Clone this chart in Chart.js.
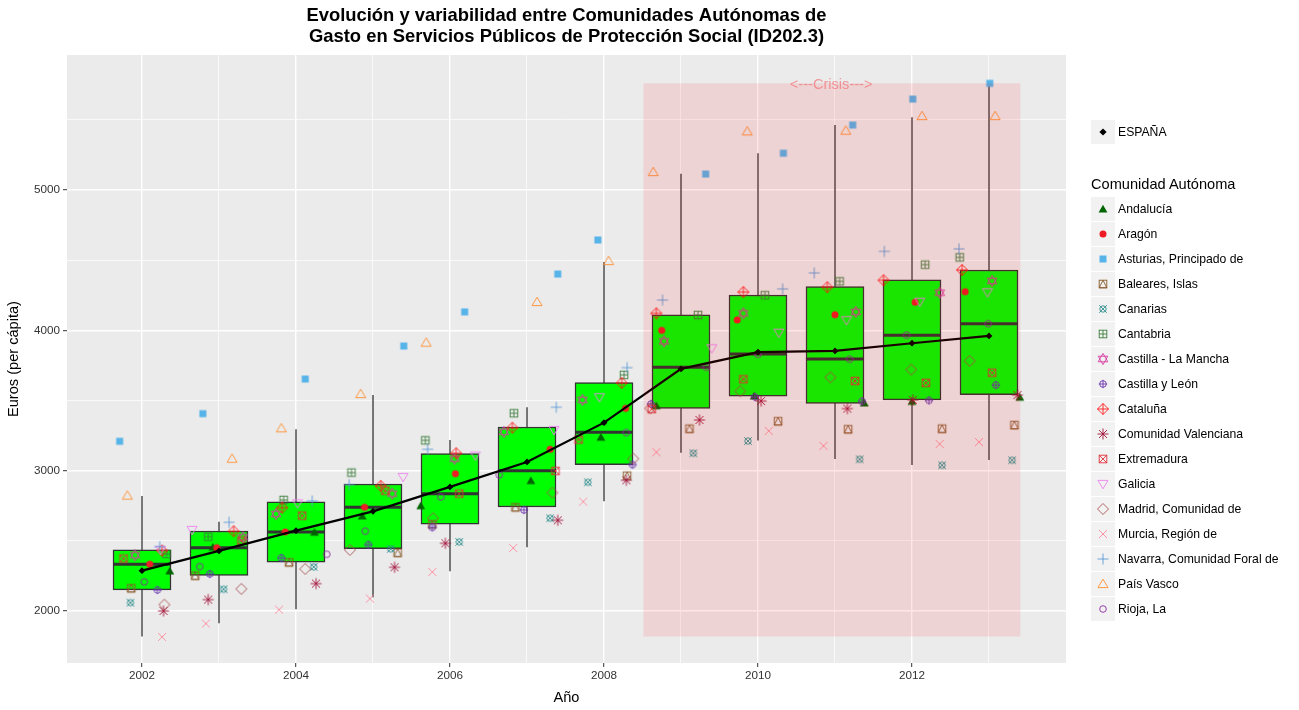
<!DOCTYPE html>
<html lang="es">
<head>
<meta charset="utf-8">
<title>Gasto en Servicios Públicos de Protección Social</title>
<script src="https://cdn.jsdelivr.net/npm/chart.js@4"></script>
<style>
    html, body { margin: 0; padding: 0; background: #fff; }
    #wrap { position: relative; width: 1299px; height: 710px; overflow: hidden; font-family: "Liberation Sans", Arial, sans-serif; color: #000; }
    #chart { position: absolute; left: 0; top: 0; }
    .key { position: absolute; left: 1091px; width: 24px; height: 24px; background: #f2f2f2; }
    .key canvas { position: absolute; left: 4px; top: 4px; }
    .lbl { position: absolute; left: 1118px; font-size: 12.2px; line-height: 24px; white-space: nowrap; }
    .ttl { position: absolute; left: 1091px; font-size: 14.6px; line-height: 18px; white-space: nowrap; }
</style>
</head>
<body>
<div id="wrap">
    <canvas id="chart" width="1299" height="710"></canvas>
    <div id="legend"></div>
</div>
<script>
"use strict";

const years       = [2002, 2003, 2004, 2005, 2006, 2007, 2008, 2009, 2010, 2011, 2012, 2013];
const q1          = [2150, 2254, 2347, 2444, 2618, 2741, 3042, 3444, 3530, 3479, 3504, 3541];
const medians     = [2333, 2451, 2563, 2739, 2836, 3000, 3273, 3736, 3831, 3796, 3964, 4047];
const q3          = [2435, 2570, 2777, 2905, 3121, 3311, 3627, 4111, 4252, 4312, 4359, 4430];
const whiskerLow  = [1817, 1912, 2012, 2097, 2283, 2454, 2782, 3128, 3214, 3083, 3040, 3076];
const whiskerHigh = [2820, 2636, 3295, 3539, 3219, 3452, 4487, 5116, 5262, 5463, 5518, 5762];
const espana      = [2287, 2428, 2572, 2710, 2884, 3062, 3342, 3725, 3845, 3853, 3908, 3960];

const xTicks = [2002, 2003, 2004, 2005, 2006, 2007, 2008, 2009, 2010, 2011, 2012, 2013];
const xLabels = [2002, 2004, 2006, 2008, 2010, 2012];
const yTicks = [2000, 2500, 3000, 3500, 4000, 4500, 5000, 5500];
const yLabels = [2000, 3000, 4000, 5000];

const crisisX = [2008.51, 2013.41];
const crisisTop = 5760;
const crisisBottom = 1817;

const andaluciaX = [2002.36, 2002.92, 2004.24, 2004.86, 2005.62, 2007.05, 2007.96, 2008.68, 2009.95, 2011.38, 2012.00, 2013.40];
const andaluciaY = [2285, 2454, 2561, 2677, 2750, 2929, 3238, 3463, 3532, 3482, 3494, 3523];
const aragonX = [2002.10, 2002.97, 2003.86, 2004.89, 2006.07, 2007.30, 2008.28, 2008.75, 2009.73, 2011.00, 2012.04, 2012.69];
const aragonY = [2333, 2451, 2563, 2739, 2978, 3152, 3444, 4000, 4074, 4111, 4200, 4275];
const asturiasX = [2001.71, 2002.79, 2004.12, 2005.40, 2006.19, 2007.40, 2007.92, 2009.32, 2010.33, 2011.23, 2012.01, 2013.01];
const asturiasY = [3209, 3406, 3653, 3888, 4131, 4401, 4644, 5114, 5262, 5463, 5648, 5760];
const balearesX = [2001.86, 2002.69, 2003.91, 2005.32, 2005.77, 2006.85, 2008.30, 2009.11, 2010.26, 2011.17, 2012.39, 2013.33];
const balearesY = [2162, 2252, 2347, 2415, 2618, 2739, 2964, 3299, 3352, 3295, 3299, 3325];
const canariasX = [2001.85, 2003.06, 2004.23, 2005.23, 2006.12, 2007.30, 2007.79, 2009.16, 2009.87, 2011.32, 2012.39, 2013.30];
const canariasY = [2059, 2155, 2314, 2442, 2492, 2661, 2917, 3124, 3211, 3081, 3038, 3074];
const cantabriaX = [2002.32, 2002.86, 2003.84, 2004.72, 2005.68, 2006.83, 2008.26, 2009.22, 2010.09, 2011.06, 2012.17, 2012.62];
const cantabriaY = [2406, 2529, 2791, 2986, 3216, 3409, 3682, 4109, 4250, 4349, 4468, 4520];
const manchaX = [2001.91, 2003.31, 2003.74, 2005.25, 2006.06, 2006.70, 2007.72, 2008.78, 2009.81, 2011.27, 2012.36, 2013.04];
const manchaY = [2397, 2525, 2691, 2836, 3085, 3276, 3504, 3922, 4121, 4131, 4268, 4352];
const leonX = [2002.20, 2002.88, 2003.81, 2004.94, 2005.77, 2006.96, 2008.37, 2008.61, 2009.96, 2011.35, 2012.22, 2013.09];
const leonY = [2150, 2264, 2378, 2472, 2596, 2720, 3043, 3475, 3525, 3494, 3501, 3610];
const catalunaX = [2002.26, 2003.19, 2003.82, 2005.10, 2006.08, 2006.81, 2008.23, 2008.68, 2009.81, 2010.90, 2011.63, 2012.65];
const catalunaY = [2430, 2568, 2736, 2891, 3124, 3306, 3625, 4121, 4273, 4307, 4357, 4430];
const valenciaX = [2002.28, 2002.86, 2004.26, 2005.28, 2005.94, 2007.40, 2008.29, 2009.24, 2010.04, 2011.16, 2012.01, 2013.37];
const valenciaY = [2000, 2081, 2195, 2311, 2482, 2646, 2931, 3361, 3496, 3442, 3504, 3539];
const extremaduraX = [2001.76, 2003.29, 2004.08, 2005.16, 2006.12, 2007.37, 2007.67, 2008.62, 2009.81, 2011.26, 2012.18, 2013.04];
const extremaduraY = [2373, 2501, 2679, 2857, 2836, 2998, 3221, 3439, 3651, 3639, 3625, 3698];
const galiciaX = [2002.24, 2002.65, 2004.02, 2005.39, 2006.33, 2007.35, 2007.94, 2009.40, 2010.27, 2011.15, 2012.10, 2012.98];
const galiciaY = [2435, 2577, 2767, 2955, 3107, 3290, 3523, 3872, 3983, 4072, 4204, 4271];
const madridX = [2002.29, 2003.29, 2004.12, 2004.70, 2005.78, 2007.33, 2008.38, 2008.60, 2009.77, 2010.94, 2011.99, 2012.75];
const madridY = [2045, 2157, 2299, 2435, 2661, 2843, 3085, 3444, 3566, 3665, 3720, 3782];
const murciaX = [2002.26, 2002.83, 2003.78, 2004.96, 2005.77, 2006.82, 2007.73, 2008.68, 2010.14, 2010.85, 2012.36, 2012.87];
const murciaY = [1815, 1910, 2009, 2088, 2278, 2449, 2779, 3131, 3283, 3176, 3190, 3204];
const navarraX = [2002.23, 2003.13, 2004.21, 2004.69, 2005.71, 2007.38, 2008.30, 2008.76, 2010.32, 2010.73, 2011.64, 2012.61];
const navarraY = [2458, 2632, 2784, 2900, 3152, 3452, 3734, 4216, 4295, 4409, 4563, 4580];
const vascoX = [2001.81, 2003.17, 2003.81, 2004.84, 2005.69, 2007.13, 2008.06, 2008.64, 2009.86, 2011.14, 2012.13, 2013.08];
const vascoY = [2822, 3085, 3302, 3546, 3912, 4202, 4494, 5128, 5418, 5423, 5527, 5527];
const riojaX = [2002.03, 2002.75, 2004.40, 2004.90, 2005.88, 2006.64, 2008.29, 2009.33, 2010.00, 2011.19, 2011.93, 2012.99];
const riojaY = [2207, 2316, 2404, 2568, 2812, 2969, 3271, 3737, 3829, 3794, 3965, 4047];

const regions = [
    { label: "Andalucía",                  shape: "triFill",  color: "#006400", x: andaluciaX,   y: andaluciaY },
    { label: "Aragón",                     shape: "dot",      color: "#ee1c25", x: aragonX,      y: aragonY },
    { label: "Asturias, Principado de",    shape: "square",   color: "#56b4e9", x: asturiasX,    y: asturiasY },
    { label: "Baleares, Islas",            shape: "boxTri",   color: "#8b5a2b", x: balearesX,    y: balearesY },
    { label: "Canarias",                   shape: "circleX",  color: "#2f8f8f", x: canariasX,    y: canariasY },
    { label: "Cantabria",                  shape: "boxPlus",  color: "#3c7d3c", x: cantabriaX,   y: cantabriaY },
    { label: "Castilla - La Mancha",       shape: "david",    color: "#d63aa0", x: manchaX,      y: manchaY },
    { label: "Castilla y León",            shape: "circPlus", color: "#6a35b0", x: leonX,        y: leonY },
    { label: "Cataluña",                   shape: "diaPlus",  color: "#ff1a1a", x: catalunaX,    y: catalunaY },
    { label: "Comunidad Valenciana",       shape: "star",     color: "#a3123a", x: valenciaX,    y: valenciaY },
    { label: "Extremadura",                shape: "boxX",     color: "#e0303a", x: extremaduraX, y: extremaduraY },
    { label: "Galicia",                    shape: "triDown",  color: "#ee82ee", x: galiciaX,     y: galiciaY },
    { label: "Madrid, Comunidad de",       shape: "diamond",  color: "#a85050", x: madridX,      y: madridY },
    { label: "Murcia, Región de",          shape: "cross",    color: "#ff8a9e", x: murciaX,      y: murciaY },
    { label: "Navarra, Comunidad Foral de", shape: "plus",    color: "#5b9bd5", x: navarraX,     y: navarraY },
    { label: "País Vasco",                 shape: "triUp",    color: "#ff9030", x: vascoX,       y: vascoY },
    { label: "Rioja, La",                  shape: "circle",   color: "#8b2a9f", x: riojaX,       y: riojaY }
];

const BOX_HALF = 0.375;
const FONT = '"Liberation Sans", Arial, sans-serif';

// R-style plotting symbols, pointStyle accepts a canvas
function makeMarker(shape, color) {
    const cv = document.createElement("canvas");
    cv.width = 16;
    cv.height = 16;
    const c = cv.getContext("2d");
    c.translate(8, 8);
    c.strokeStyle = color;
    c.fillStyle = color;
    c.lineWidth = 0.9;

    const line = (x1, y1, x2, y2) => { c.beginPath(); c.moveTo(x1, y1); c.lineTo(x2, y2); c.stroke(); };
    const poly = (pts, fill) => {
        c.beginPath();
        pts.forEach((p, i) => i ? c.lineTo(p[0], p[1]) : c.moveTo(p[0], p[1]));
        c.closePath();
        fill ? c.fill() : c.stroke();
    };
    const circle = (r, fill) => { c.beginPath(); c.arc(0, 0, r, 0, Math.PI * 2); fill ? c.fill() : c.stroke(); };
    const up = [[-5, 3.6], [5, 3.6], [0, -4.8]];
    const down = [[-5, -3.6], [5, -3.6], [0, 4.8]];

    switch (shape) {
        case "triFill":  poly([[-4.4, 3.4], [4.4, 3.4], [0, -4.2]], true); break;
        case "dot":      circle(3.5, true); break;
        case "square":   c.fillRect(-3.5, -3.5, 7, 7); break;
        case "boxTri":   c.strokeRect(-3.8, -3.8, 7.6, 7.6); poly([[-3.8, 3.8], [3.8, 3.8], [0, -3.8]], false); break;
        case "circleX":  circle(3.2); c.strokeRect(-3.6, -3.6, 0, 0); line(-3.8, -3.8, 3.8, 3.8); line(-3.8, 3.8, 3.8, -3.8); break;
        case "boxPlus":  c.strokeRect(-3.8, -3.8, 7.6, 7.6); line(-3.8, 0, 3.8, 0); line(0, -3.8, 0, 3.8); break;
        case "david":    poly([[-4.8, 2.8], [4.8, 2.8], [0, -5.6]], false); poly([[-4.8, -2.8], [4.8, -2.8], [0, 5.6]], false); break;
        case "circPlus": circle(3.3); line(-4.2, 0, 4.2, 0); line(0, -4.2, 0, 4.2); break;
        case "diaPlus":  poly([[-5.5, 0], [0, -5.5], [5.5, 0], [0, 5.5]], false); line(-5.5, 0, 5.5, 0); line(0, -5.5, 0, 5.5); break;
        case "star":     line(-5.5, 0, 5.5, 0); line(0, -5.5, 0, 5.5); line(-4, -4, 4, 4); line(-4, 4, 4, -4); break;
        case "boxX":     c.strokeRect(-3.8, -3.8, 7.6, 7.6); line(-3.8, -3.8, 3.8, 3.8); line(-3.8, 3.8, 3.8, -3.8); break;
        case "triDown":  poly(down, false); break;
        case "diamond":  poly([[-5.5, 0], [0, -5.5], [5.5, 0], [0, 5.5]], false); break;
        case "cross":    line(-4, -4, 4, 4); line(-4, 4, 4, -4); break;
        case "plus":     line(-5.5, 0, 5.5, 0); line(0, -5.5, 0, 5.5); break;
        case "triUp":    poly(up, false); break;
        case "circle":   circle(3.3); break;
    }
    return cv;
}

function segments(xFrom, yFrom, xTo, yTo) {
    const out = [];
    years.forEach((_, i) => {
        out.push({ x: xFrom[i], y: yFrom[i] }, { x: xTo[i], y: yTo[i] }, { x: xTo[i], y: null });
    });
    return out;
}

const panelBackground = {
    id: "panelBackground",
    beforeDraw(chart) {
        const a = chart.chartArea;
        chart.ctx.save();
        chart.ctx.fillStyle = "#ebebeb";
        chart.ctx.fillRect(a.left, a.top, a.width, a.height);
        chart.ctx.restore();
    }
};

const crisisLabel = {
    id: "crisisLabel",
    afterDatasetsDraw(chart) {
        const c = chart.ctx;
        c.save();
        c.font = "14.6px " + FONT;
        c.fillStyle = "rgba(240,120,125,0.75)";
        c.textAlign = "center";
        c.textBaseline = "middle";
        c.fillText("<---Crisis--->", chart.scales.x.getPixelForValue(2010.95), chart.scales.y.getPixelForValue(crisisTop) + 1.5);
        c.restore();
    }
};

function buildDatasets() {
    const sets = [];

    sets.push({
        label: "Bigotes", type: "scatter", showLine: true, spanGaps: false, order: 90,
        data: segments(years, whiskerLow, years, whiskerHigh),
        borderColor: "#333333", borderWidth: 1.3, pointRadius: 0
    });
    sets.push({
        label: "Cajas", type: "bar", order: 80,
        data: years.map((yr, i) => ({ x: yr, y: [q1[i], q3[i]] })),
        backgroundColor: "#00ff00", borderColor: "#333333", borderWidth: 1.5,
        borderSkipped: false, barThickness: 58
    });
    sets.push({
        label: "Medianas", type: "scatter", showLine: true, spanGaps: false, order: 70,
        data: segments(years.map(y => y - BOX_HALF), medians, years.map(y => y + BOX_HALF), medians),
        borderColor: "#333333", borderWidth: 3, pointRadius: 0
    });

    regions.forEach((r, n) => {
        sets.push({
            label: r.label, type: "scatter", order: 60 - n,
            data: r.x.map((x, i) => ({ x: x, y: r.y[i] })),
            pointStyle: makeMarker(r.shape, r.color), pointRadius: 8, borderWidth: 0
        });
    });

    sets.push({
        label: "ESPAÑA", type: "scatter", showLine: true, order: 5,
        data: years.map((yr, i) => ({ x: yr, y: espana[i] })),
        borderColor: "#000000", borderWidth: 2.2, tension: 0,
        pointStyle: "rectRot", pointRadius: 3.4, pointBackgroundColor: "#000000", pointBorderWidth: 0
    });
    // el recuadro de crisis va encima de todo
    sets.push({
        label: "Crisis", type: "scatter", showLine: true, order: 1,
        data: crisisX.map(x => ({ x: x, y: crisisTop })),
        fill: { value: crisisBottom }, backgroundColor: "rgba(255,0,0,0.1)",
        borderWidth: 0, pointRadius: 0, tension: 0
    });
    return sets;
}

function buildLegend() {
    const box = document.getElementById("legend");
    const addEntry = (label, centerY, marker) => {
        const key = document.createElement("div");
        key.className = "key";
        key.style.top = (centerY - 12) + "px";
        key.appendChild(marker);
        const txt = document.createElement("div");
        txt.className = "lbl";
        txt.style.top = (centerY - 12) + "px";
        txt.textContent = label;
        box.appendChild(key);
        box.appendChild(txt);
    };

    const diamond = makeMarker("diamond", "#000000");
    const dc = diamond.getContext("2d");
    dc.clearRect(-8, -8, 16, 16);
    dc.beginPath();
    dc.moveTo(-3.6, 0); dc.lineTo(0, -3.6); dc.lineTo(3.6, 0); dc.lineTo(0, 3.6);
    dc.closePath();
    dc.fill();
    addEntry("ESPAÑA", 132, diamond);

    const ttl = document.createElement("div");
    ttl.className = "ttl";
    ttl.style.top = "175px";
    ttl.textContent = "Comunidad Autónoma";
    box.appendChild(ttl);

    regions.forEach((r, i) => addEntry(r.label, 209 + i * 25, makeMarker(r.shape, r.color)));
}

function initChart() {
    new Chart(document.getElementById("chart"), {
        type: "scatter",
        data: { datasets: buildDatasets() },
        plugins: [panelBackground, crisisLabel],
        options: {
            responsive: false,
            animation: false,
            devicePixelRatio: 1,
            layout: { padding: { left: 0, right: 233, top: 0, bottom: 0 } },
            plugins: {
                legend: { display: false },
                tooltip: { enabled: false },
                title: {
                    display: true,
                    fullSize: false,
                    text: ["Evolución y variabilidad entre Comunidades Autónomas de", "Gasto en Servicios Públicos de Protección Social (ID202.3)"],
                    color: "#000000",
                    font: { family: FONT, size: 18.4, weight: "bold", lineHeight: 1.15 },
                    padding: { top: 5, bottom: 7.7 }
                }
            },
            scales: {
                x: {
                    type: "linear",
                    min: 2001.026,
                    max: 2014,
                    offset: false,
                    afterBuildTicks: s => { s.ticks = xTicks.map(v => ({ value: v })); },
                    afterFit: s => { s.height = 47; },
                    border: { display: false },
                    grid: {
                        offset: false,
                        color: "#ffffff",
                        lineWidth: c => xLabels.includes(c.tick.value) ? 1.4 : 0.7,
                        tickColor: c => xLabels.includes(c.tick.value) ? "#333333" : "rgba(0,0,0,0)",
                        tickLength: 4,
                        tickWidth: 1
                    },
                    ticks: {
                        autoSkip: false, maxRotation: 0, padding: 2,
                        color: "#333333",
                        font: { family: FONT, size: 11.7 },
                        callback: v => xLabels.includes(v) ? String(v) : ""
                    },
                    title: {
                        display: true, text: "Año", color: "#000000",
                        font: { family: FONT, size: 14.6 },
                        padding: { top: 0, bottom: 3 }
                    }
                },
                y: {
                    type: "linear",
                    min: 1629,
                    max: 5962,
                    afterBuildTicks: s => { s.ticks = yTicks.map(v => ({ value: v })); },
                    afterFit: s => { s.width = 67; },
                    border: { display: false },
                    grid: {
                        color: "#ffffff",
                        lineWidth: c => yLabels.includes(c.tick.value) ? 1.4 : 0.7,
                        tickColor: c => yLabels.includes(c.tick.value) ? "#333333" : "rgba(0,0,0,0)",
                        tickLength: 4,
                        tickWidth: 1
                    },
                    ticks: {
                        autoSkip: false, padding: 3,
                        color: "#333333",
                        font: { family: FONT, size: 11.7 },
                        callback: v => yLabels.includes(v) ? String(v) : ""
                    },
                    title: {
                        display: true, text: "Euros (per cápita)", color: "#000000",
                        font: { family: FONT, size: 14.6 },
                        padding: { top: 5, bottom: 0 }
                    }
                }
            }
        }
    });
}

buildLegend();
initChart();
</script>
</body>
</html>
